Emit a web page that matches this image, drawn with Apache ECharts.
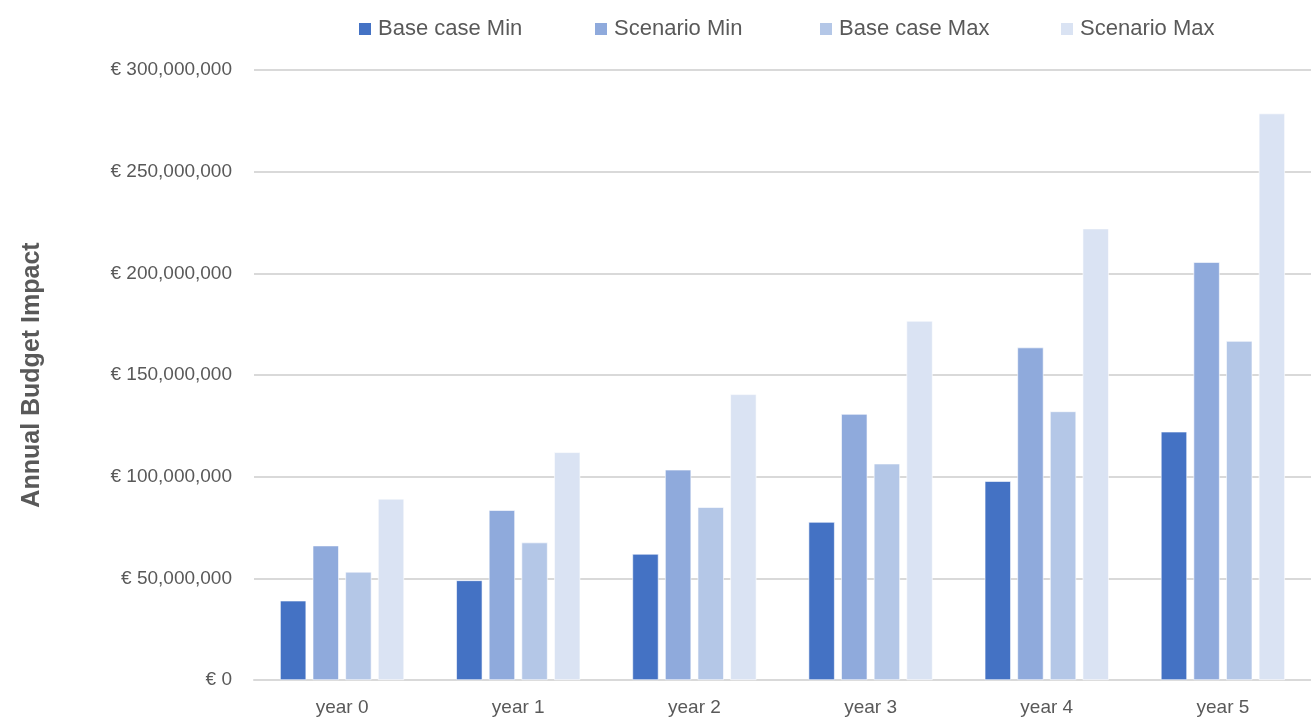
<!DOCTYPE html>
<html>
<head>
<meta charset="utf-8">
<script src="https://cdn.jsdelivr.net/npm/echarts@6/dist/echarts.min.js"></script>
<style>
html,body{margin:0;padding:0;background:#fff;}
#chart{width:1311px;height:721px;}
</style>
</head>
<body>
<div id="chart"></div>
<script>
const categories = ['year 0', 'year 1', 'year 2', 'year 3', 'year 4', 'year 5'];
const seriesNames = ['Base case Min', 'Scenario Min', 'Base case Max', 'Scenario Max'];
const baseCaseMin = [39000000, 49000000, 62000000, 77700000, 97800000, 122100000];
const scenarioMin = [66100000, 83500000, 103400000, 130800000, 163500000, 205500000];
const baseCaseMax = [53200000, 67600000, 85000000, 106400000, 132100000, 166700000];
const scenarioMax = [89100000, 112000000, 140500000, 176600000, 222000000, 278600000];
const colors = ['#4472C4', '#8FAADC', '#B4C7E7', '#DAE3F3'];
const yAxisTitle = 'Annual Budget Impact';

function fmt(v) {
  return '€ ' + v.toString().replace(/\B(?=(\d{3})+(?!\d))/g, ',');
}

const dataSets = [baseCaseMin, scenarioMin, baseCaseMax, scenarioMax];
const legendLefts = [352, 588, 813, 1054];
const chart = echarts.init(document.getElementById('chart'), null, {renderer: 'canvas'});
chart.setOption({
  backgroundColor: '#ffffff',
  animation: false,
  textStyle: {fontFamily: 'Liberation Sans, Arial, sans-serif', color: '#595959'},
  legend: seriesNames.map((n, i) => ({
    data: [n],
    left: legendLefts[i],
    top: 13,
    itemWidth: 14,
    itemHeight: 14,
    itemGap: 0,
    icon: 'rect',
    textStyle: {fontSize: 22, color: '#595959', padding: [0, 0, 0, 1]}
  })),
  grid: {left: 254, right: 0, top: 70, bottom: 41, containLabel: false},
  xAxis: {
    type: 'category',
    data: categories,
    axisLine: {show: true, lineStyle: {color: '#D9D9D9', width: 2}},
    axisTick: {show: false},
    axisLabel: {fontSize: 19, color: '#595959', margin: 18}
  },
  yAxis: {
    type: 'value',
    min: 0,
    max: 300000000,
    interval: 50000000,
    name: yAxisTitle,
    nameLocation: 'middle',
    nameGap: 209,
    nameTextStyle: {fontSize: 25, fontWeight: 'bold', color: '#595959'},
    axisLine: {show: false},
    axisTick: {show: false},
    axisLabel: {fontSize: 19, color: '#595959', margin: 22, formatter: fmt},
    splitLine: {lineStyle: {color: '#D9D9D9', width: 2}}
  },
  series: dataSets.map((d, i) => ({
    name: seriesNames[i],
    type: 'bar',
    data: d,
    barGap: '25%',
    barCategoryGap: '29.6%',
    itemStyle: {color: colors[i], borderColor: '#ffffff', borderWidth: 0.6}
  }))
});
</script>
</body>
</html>
